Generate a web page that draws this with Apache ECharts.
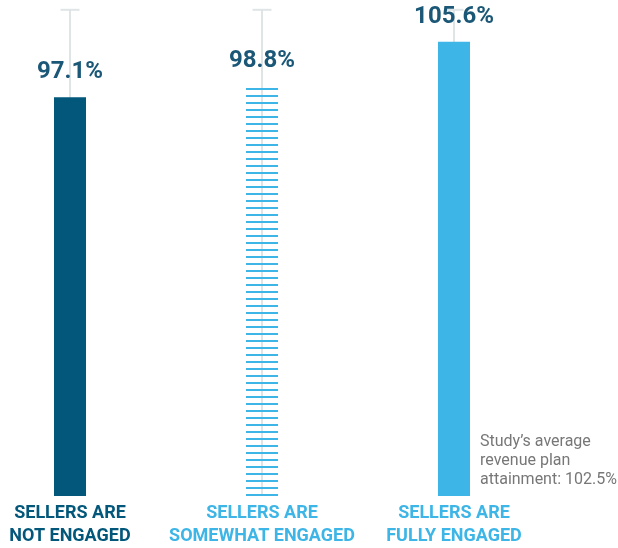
<!DOCTYPE html>
<html>
<head>
<meta charset="utf-8">
<script src="https://cdn.jsdelivr.net/npm/echarts@6/dist/echarts.min.js"></script>
<style>
  html, body { margin: 0; padding: 0; background: #fff; }
  #chart { width: 618px; height: 548px; }
</style>
</head>
<body>
<div id="chart"></div>
<script>
var categories = ['SELLERS ARE\nNOT ENGAGED', 'SELLERS ARE\nSOMEWHAT ENGAGED', 'SELLERS ARE\nFULLY ENGAGED']
var values = [97.1, 98.8, 105.6]
var whiskerTop = [110.5, 110.5, 110.5]
var note = 'Study\u2019s average\nrevenue plan\nattainment: 102.5%'

var yMin = 36
var yMax = 112
var darkBlue = '#02577a'
var lightBlue = '#3db5e6'
var labelDark = '#1b5776'

// striped fill for the middle bar
var stripe = document.createElement('canvas')
stripe.width = 8
stripe.height = 7
var sctx = stripe.getContext('2d')
sctx.fillStyle = lightBlue
sctx.fillRect(0, 4, 8, 2)

var barColors = [darkBlue, { image: stripe, repeat: 'repeat' }, lightBlue]
var catColors = [darkBlue, lightBlue, lightBlue]

var myChart = echarts.init(document.getElementById('chart'))
var option = {
  animation: false,
  grid: {
    left: 70,
    right: 164,
    top: 0,
    bottom: 49
  },
  xAxis: {
    type: 'category',
    boundaryGap: false,
    data: categories,
    axisLine: { show: false },
    axisTick: { show: false },
    axisLabel: {
      interval: 0,
      margin: 6,
      fontFamily: 'Roboto',
      fontWeight: 'bold',
      fontSize: 18,
      lineHeight: 23,
      color: function (value, index) {
        return catColors[index]
      }
    }
  },
  yAxis: {
    type: 'value',
    min: yMin,
    max: yMax,
    show: false,
    splitLine: { show: false }
  },
  series: [
    {
      type: 'custom',
      z: 1,
      silent: true,
      data: whiskerTop.map(function (v, i) { return [i, yMin, v] }),
      renderItem: function (params, api) {
        var bottom = api.coord([api.value(0), api.value(1)])
        var top = api.coord([api.value(0), api.value(2)])
        var style = { stroke: '#dfe4e7', lineWidth: 2 }
        return {
          type: 'group',
          children: [
            { type: 'line', shape: { x1: bottom[0], y1: bottom[1], x2: top[0], y2: top[1] }, style: style },
            { type: 'line', shape: { x1: top[0] - 9.5, y1: top[1], x2: top[0] + 9.5, y2: top[1] }, style: style }
          ]
        }
      }
    },
    {
      type: 'bar',
      z: 2,
      barWidth: 32,
      data: values.map(function (v, i) {
        return { value: v, itemStyle: { color: barColors[i] } }
      }),
      label: {
        show: true,
        position: 'top',
        distance: 13,
        fontFamily: 'Roboto',
        fontWeight: 'bold',
        fontSize: 24,
        color: labelDark,
        formatter: function (p) { return p.value.toFixed(1) + '%' }
      }
    }
  ],
  graphic: [
    {
      type: 'text',
      left: 480,
      top: 432,
      style: {
        text: note,
        font: '16px Roboto',
        lineHeight: 19,
        fill: '#777777'
      }
    }
  ]
}
myChart.setOption(option)
</script>
</body>
</html>
